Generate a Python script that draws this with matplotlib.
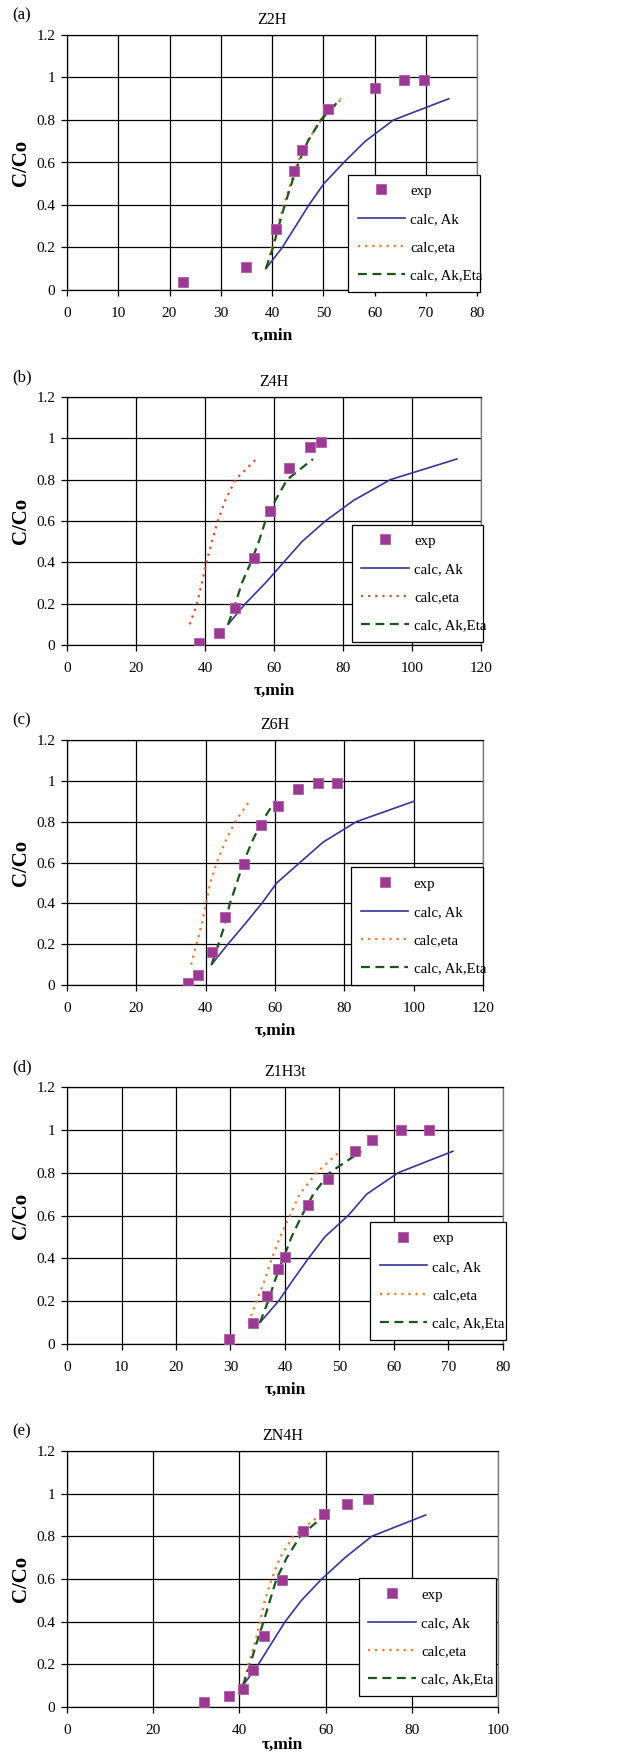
import numpy as np
import matplotlib
matplotlib.use('Agg')
from matplotlib import pyplot as plt
from matplotlib.ticker import FuncFormatter

plt.rcParams['font.family'] = ['Liberation Serif', 'DejaVu Serif']

# C/Co levels at which the calculated curves are given
calc_y = [0.1, 0.2, 0.3, 0.4, 0.5, 0.6, 0.7, 0.8, 0.9]

panel_labels = ['(a)', '(b)', '(c)', '(d)', '(e)']
titles = ['Z2H', 'Z4H', 'Z6H', 'Z1H3t', 'ZN4H']
x_max = [80, 120, 120, 80, 100]
x_step = [10, 20, 20, 10, 20]

# experimental points
exp_x_a = [22.6, 34.9, 40.7, 44.3, 45.9, 50.9, 60.0, 65.8, 69.7]
exp_y_a = [0.036, 0.11, 0.285, 0.56, 0.66, 0.85, 0.95, 0.99, 0.99]
exp_x_b = [38.3, 44.2, 48.6, 54.1, 58.7, 64.4, 70.4, 73.7]
exp_y_b = [0.011, 0.056, 0.18, 0.42, 0.65, 0.857, 0.96, 0.98]
exp_x_c = [34.8, 37.8, 41.7, 45.7, 51.0, 55.9, 60.9, 66.7, 72.4, 78.0]
exp_y_c = [0.011, 0.047, 0.16, 0.333, 0.594, 0.785, 0.875, 0.958, 0.991, 0.991]
exp_x_d = [29.8, 34.2, 36.7, 38.7, 40.0, 44.3, 47.8, 52.8, 55.9, 61.3, 66.5]
exp_y_d = [0.022, 0.10, 0.224, 0.351, 0.406, 0.648, 0.77, 0.90, 0.951, 0.998, 0.998]
exp_x_e = [31.7, 37.5, 40.8, 43.2, 45.7, 49.9, 54.7, 59.6, 64.9, 69.8]
exp_y_e = [0.023, 0.052, 0.083, 0.172, 0.333, 0.593, 0.824, 0.904, 0.953, 0.975]

# calculated curves: tau at each calc_y level
ak_a = [38.8, 42.0, 44.6, 47.2, 50.1, 54.0, 58.2, 63.7, 74.5]
eta_a = [38.8, 40.0, 41.1, 42.3, 43.6, 45.0, 46.9, 49.6, 53.6]
akEta_a = [38.8, 40.2, 41.3, 42.5, 43.8, 45.2, 47.0, 49.5, 53.4]

ak_b = [46.7, 51.7, 57.5, 62.8, 68.1, 74.9, 83.1, 93.7, 113.0]
eta_b = [35.6, 37.7, 39.1, 40.4, 42.0, 43.7, 45.9, 48.8, 54.9]
akEta_b = [46.7, 48.8, 50.7, 53.3, 55.6, 57.5, 60.4, 63.8, 71.3]

ak_c = [41.7, 46.4, 51.4, 56.2, 60.5, 67.2, 73.9, 83.5, 100.1]
eta_c = [35.8, 37.4, 38.9, 40.1, 41.3, 43.2, 45.6, 48.5, 52.6]
akEta_c = [41.7, 43.7, 45.6, 47.0, 49.0, 50.9, 53.3, 56.2, 60.0]

ak_d = [35.4, 38.8, 41.5, 44.3, 47.3, 51.6, 55.0, 60.8, 70.8]
eta_d = [33.3, 34.8, 36.3, 37.6, 39.1, 40.9, 42.7, 45.8, 50.1]
akEta_d = [35.4, 36.9, 38.2, 39.7, 41.2, 43.1, 45.2, 48.2, 54.0]

ak_e = [40.8, 44.4, 47.5, 50.6, 54.4, 59.1, 64.5, 70.7, 83.2]
eta_e = [40.8, 42.1, 43.6, 44.8, 45.9, 47.5, 49.4, 52.5, 58.7]
akEta_e = [40.8, 42.5, 44.0, 45.6, 47.1, 48.6, 51.0, 54.1, 59.8]

exp_x = [exp_x_a, exp_x_b, exp_x_c, exp_x_d, exp_x_e]
exp_y = [exp_y_a, exp_y_b, exp_y_c, exp_y_d, exp_y_e]
ak = [ak_a, ak_b, ak_c, ak_d, ak_e]
eta = [eta_a, eta_b, eta_c, eta_d, eta_e]
akEta = [akEta_a, akEta_b, akEta_c, akEta_d, akEta_e]

W, H = 639, 1760
# axes boxes in pixels: left, right, top, bottom
boxes = [(67, 477, 35, 290), (67, 481, 397, 645), (67, 483, 740, 985),
         (67, 503, 1087, 1344), (67, 498, 1451, 1707)]
# legend boxes in axes fraction: left, bottom, right, top
leg_boxes = [(0.685, -0.008, 1.007, 0.459), (0.688, 0.012, 1.005, 0.49),
             (0.683, 0.0, 1.0, 0.48), (0.695, 0.016, 1.007, 0.49),
             (0.677, 0.043, 0.995, 0.514)]
eta_colors = ['#F07A2E', '#E84A28', '#F07A2E', '#F07A2E', '#F07A2E']
xlabel_pads = [6, 6, 6, 6, 0]

fig = plt.figure(figsize=(W / 100, H / 100), dpi=100)

def fmt(v, pos):
    return '%g' % round(v, 2)

for i in range(5):
    l, r, t, b = boxes[i]
    ax = fig.add_axes([l / W, 1 - b / H, (r - l) / W, (b - t) / H])
    ax.plot(exp_x[i], exp_y[i], ls='none', marker='s', ms=6.5, color='#9B3A93',
            mec='#B25AAA', mew=0.6, label='exp', zorder=5)
    ax.plot(ak[i], calc_y, color='#35359A', lw=1.2, label='calc, Ak', zorder=3)
    ax.plot(eta[i], calc_y, color=eta_colors[i], lw=1.6, ls=(0, (1, 2.2)),
            label='calc,eta', zorder=3)
    ax.plot(akEta[i], calc_y, color='#1A551A', lw=1.6, ls=(0, (4, 2.5)),
            label='calc, Ak,Eta', zorder=4)

    ax.set_xlim(0, x_max[i])
    ax.set_ylim(0, 1.2)
    ax.set_xticks(np.arange(0, x_max[i] + 1, x_step[i]))
    ax.set_yticks(np.arange(0, 1.21, 0.2))
    ax.yaxis.set_major_formatter(FuncFormatter(fmt))
    ax.grid(True, color='black', lw=0.9)
    ax.set_axisbelow(True)
    for s in ax.spines.values():
        s.set_color('black')
        s.set_linewidth(0.9)
    ax.spines['right'].set_color('#777777')
    ax.tick_params(direction='out', length=4, width=0.9, labelsize=11)
    ax.tick_params(axis='x', pad=8)
    ax.tick_params(axis='y', pad=4.5)

    ax.set_title(titles[i], fontsize=11.5, pad=8)
    ax.set_xlabel(r'τ,min', fontsize=12.5, fontweight='bold', labelpad=xlabel_pads[i])
    ax.set_ylabel('C/Co', fontsize=15, fontweight='bold', labelpad=4)
    fig.text(12 / W, 1 - (t - 20) / H, panel_labels[i], fontsize=12,
             ha='left', va='center')

    lb = leg_boxes[i]
    leg = ax.legend(loc='lower left', bbox_to_anchor=(lb[0], lb[1], lb[2] - lb[0], lb[3] - lb[1]),
                    mode='expand', fontsize=10.7, frameon=True, fancybox=False,
                    framealpha=1, edgecolor='black', handlelength=3.2,
                    handletextpad=0.35, labelspacing=1.0, borderpad=0.65,
                    borderaxespad=0, numpoints=1)
    leg.get_frame().set_linewidth(0.9)

fig.savefig('out.png', dpi=100)
